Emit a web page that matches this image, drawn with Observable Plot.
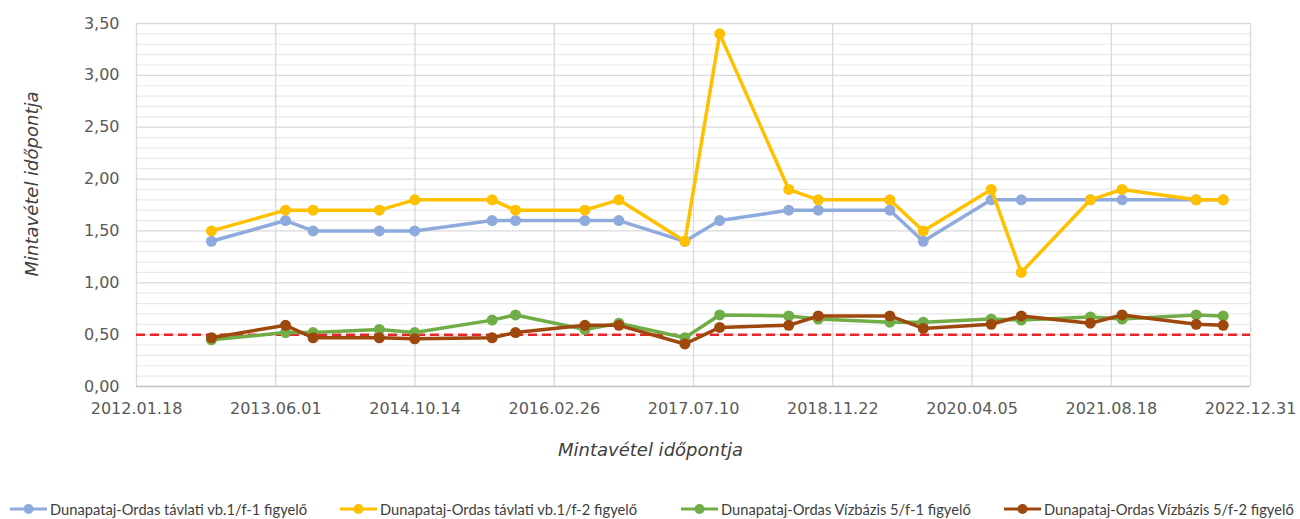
<!DOCTYPE html>
<html><head><meta charset="utf-8">
<script src="https://cdn.jsdelivr.net/npm/d3@7"></script>
<script src="https://cdn.jsdelivr.net/npm/@observablehq/plot@0.6"></script>
<style>
body{margin:0;background:#fff;}
#wrap{position:relative;width:1300px;height:519px;overflow:hidden;}
.leg{position:absolute;top:500px;height:18px;display:flex;align-items:center;font-family:Lato;font-size:14.7px;line-height:18px;color:#404040;white-space:nowrap;}
.leg svg{margin-right:3px;}
</style></head><body><div id="wrap"></div>
<script>
// sampling dates
const sampleDates = ["2012-10-13","2013-07-06","2013-10-13","2014-06-08","2014-10-13","2015-07-18","2015-10-10","2016-06-15","2016-10-15","2017-06-09","2017-10-12","2018-06-17","2018-10-01","2019-06-15","2019-10-13","2020-06-13","2020-09-29","2021-06-04","2021-09-26","2022-06-19","2022-09-24"];
const seriesNames = ["Dunapataj-Ordas távlati vb.1/f-1 figyelő","Dunapataj-Ordas távlati vb.1/f-2 figyelő","Dunapataj-Ordas Vízbázis 5/f-1 figyelő","Dunapataj-Ordas Vízbázis 5/f-2 figyelő"];
const seriesColors = ["#8faadc","#ffc000","#70ad47","#9e480e"];
const tavlatiF1 = [1.40,1.60,1.50,1.50,1.50,1.60,1.60,1.60,1.60,1.40,1.60,1.70,1.70,1.70,1.40,1.80,1.80,1.80,1.80,1.80,1.80];
const tavlatiF2 = [1.50,1.70,1.70,1.70,1.80,1.80,1.70,1.70,1.80,1.40,3.40,1.90,1.80,1.80,1.50,1.90,1.10,1.80,1.90,1.80,1.80];
const vizbazisF1 = [0.45,0.52,0.52,0.55,0.52,0.64,0.69,0.55,0.61,0.47,0.69,0.68,0.65,0.62,0.62,0.65,0.64,0.67,0.65,0.69,0.68];
const vizbazisF2 = [0.47,0.59,0.47,0.47,0.46,0.47,0.52,0.59,0.59,0.41,0.57,0.59,0.68,0.68,0.56,0.60,0.68,0.61,0.69,0.60,0.59];
const seriesValues = [tavlatiF1, tavlatiF2, vizbazisF1, vizbazisF2];
const xTickLabels = ["2012.01.18","2013.06.01","2014.10.14","2016.02.26","2017.07.10","2018.11.22","2020.04.05","2021.08.18","2022.12.31"];
const yTicks = [0,0.5,1,1.5,2,2.5,3,3.5];
const yMinorTicks = [0.1,0.2,0.3,0.4,0.6,0.7,0.8,0.9,1.1,1.2,1.3,1.4,1.6,1.7,1.8,1.9,2.1,2.2,2.3,2.4,2.6,2.7,2.8,2.9,3.1,3.2,3.3,3.4];
const limitValue = [0.5];
const xTitle = ["Mintavétel időpontja"];
const yTitle = ["Mintavétel időpontja"];

const parseTick = d3.utcParse("%Y.%m.%d");
const xTicks = xTickLabels.map(parseTick);
const fmtTick = d3.utcFormat("%Y.%m.%d");
const dates = sampleDates.map(d3.utcParse("%Y-%m-%d"));

const seriesMarks = seriesNames.flatMap((name, s) => {
  const rows = dates.map((d, i) => ({date: d, value: seriesValues[s][i]}));
  return [
    Plot.line(rows, {x: "date", y: "value", stroke: seriesColors[s], strokeWidth: 3.5}),
    Plot.dot(rows, {x: "date", y: "value", fill: seriesColors[s], r: 5.5, stroke: "none"})
  ];
});

const chart = Plot.plot({
  width: 1300,
  height: 500,
  marginLeft: 136,
  marginRight: 50,
  marginTop: 23,
  marginBottom: 114,
  style: {fontFamily: "'DejaVu Sans'", fontSize: "16px", color: "#595959", background: "#fff"},
  x: {type: "utc", domain: [xTicks[0], xTicks[xTicks.length - 1]]},
  y: {domain: [0, 3.5]},
  marks: [
    Plot.gridY(yMinorTicks, {stroke: "#e9e9e9", strokeOpacity: 1, strokeWidth: 1.2}),
    Plot.gridY(yTicks, {stroke: "#d9d9d9", strokeOpacity: 1, strokeWidth: 1.3}),
    Plot.gridX(xTicks, {stroke: "#d9d9d9", strokeOpacity: 1, strokeWidth: 1.3}),
    Plot.ruleY([0], {stroke: "#c8c8c8", strokeWidth: 1.5}),
    Plot.ruleY(limitValue, {stroke: "#e8262a", strokeWidth: 2.5, strokeDasharray: "9,5"}),
    ...seriesMarks,
    Plot.axisX(xTicks, {tickFormat: fmtTick, tickSize: 0, tickPadding: 16, label: null, fontSize: 16, fontFamily: "DejaVu Sans"}),
    Plot.axisY(yTicks, {tickFormat: d => d.toFixed(2).replace(".", ","), tickSize: 0, tickPadding: 17, label: null, fontSize: 16, fontFamily: "DejaVu Sans"}),
    Plot.text(xTitle, {frameAnchor: "bottom", textAnchor: "middle", lineAnchor: "middle", dx: -43, dy: 64, fontStyle: "italic", fontSize: 18, fontFamily: "DejaVu Sans", fill: "#404040"}),
    Plot.text(yTitle, {frameAnchor: "left", textAnchor: "middle", lineAnchor: "middle", dx: -104, dy: -21, rotate: -90, fontStyle: "italic", fontSize: 18, fontFamily: "DejaVu Sans", fill: "#404040"})
  ]
});

const wrap = document.getElementById("wrap");
wrap.appendChild(chart);

const legendLeft = [10, 340, 681, 1004];
seriesNames.forEach((name, s) => {
  const item = document.createElement("div");
  item.className = "leg";
  item.style.left = legendLeft[s] + "px";
  item.innerHTML = `<svg width="37" height="12"><line x1="0" y1="6" x2="37" y2="6" stroke="${seriesColors[s]}" stroke-width="3"/><circle cx="18.5" cy="6" r="5" fill="${seriesColors[s]}"/></svg><span>${name}</span>`;
  wrap.appendChild(item);
});
</script></body></html>
